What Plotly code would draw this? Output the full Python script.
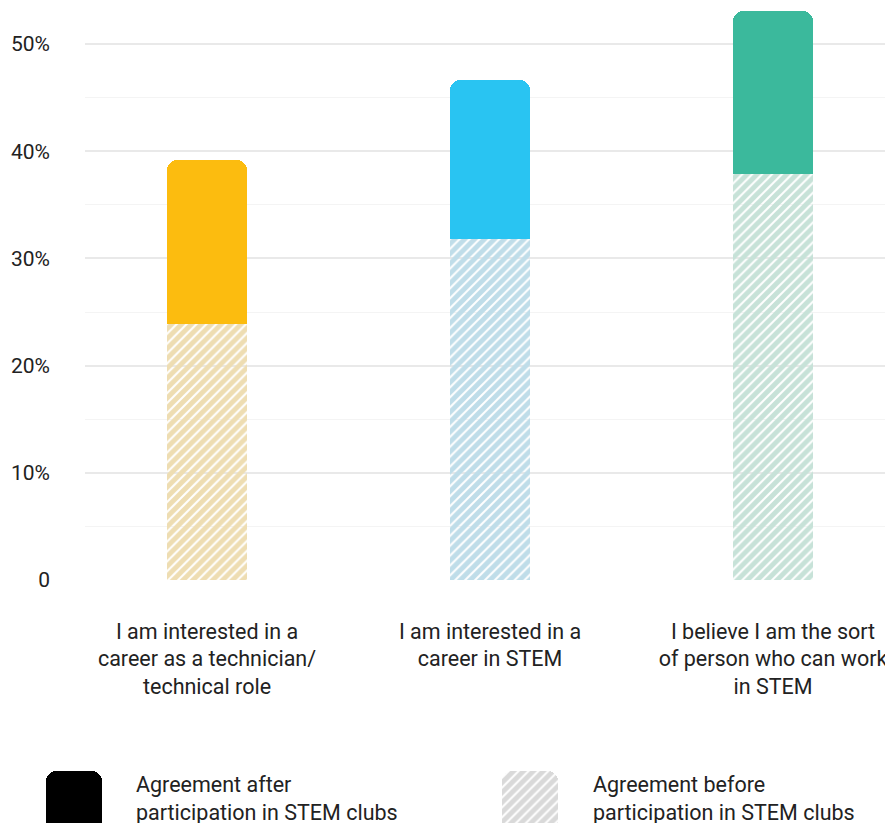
import plotly.graph_objects as go

categories = [
    "I am interested in a<br>career as a technician/<br>technical role",
    "I am interested in a<br>career in STEM",
    "I believe I am the sort<br>of person who can work<br>in STEM",
]
before_pct = [23.9, 31.8, 37.9]
after_pct = [39.2, 46.6, 53.1]
y_tickvals = [0, 10, 20, 30, 40, 50]
y_ticktext = ["0", "10%", "20%", "30%", "40%", "50%"]
legend_labels = ["Agreement after<br>participation in STEM clubs",
                 "Agreement before<br>participation in STEM clubs"]

solid_colors = ["#FCBC0F", "#29C4F2", "#3BB99C"]
hatch_colors = ["#EEDDB2", "#BFDDE9", "#C7E2D8"]

W, H = 885, 823
TOP = 5
FONT = "Roboto"
FS = 21.5

x_idx = [0, 1, 2]
gain = [a - b for a, b in zip(after_pct, before_pct)]

fig = go.Figure()
fig.add_trace(go.Bar(
    x=x_idx, y=before_pct, width=0.283,
    marker=dict(color=hatch_colors, line=dict(width=0),
                pattern=dict(shape="/", fgcolor=hatch_colors, bgcolor="white",
                             size=7, solidity=0.72, fillmode="replace")),
    showlegend=False, hoverinfo="skip",
))
fig.add_trace(go.Bar(
    x=x_idx, y=gain, width=0.283,
    marker=dict(color=solid_colors, line=dict(width=0)),
    showlegend=False, hoverinfo="skip",
))

# legend swatches drawn on an auxiliary pixel-scaled axis
leg_h = 823 - 760
fig.add_trace(go.Bar(
    x=[74], y=[leg_h - 11 + 20], base=[-20], width=[56],
    marker=dict(color="black", line=dict(width=0), cornerradius=10),
    xaxis="x2", yaxis="y2", showlegend=False, hoverinfo="skip",
))
fig.add_trace(go.Bar(
    x=[530], y=[leg_h - 11 + 20], base=[-20], width=[56],
    marker=dict(color="#D9D9D9", line=dict(width=0), cornerradius=10,
                pattern=dict(shape="/", fgcolor="#D9D9D9", bgcolor="white",
                             size=7, solidity=0.72, fillmode="replace")),
    xaxis="x2", yaxis="y2", showlegend=False, hoverinfo="skip",
))

paper_h = H - TOP
px_per_pct = (580 - 44) / 50.0
y_dom0 = (H - 580) / paper_h
y_max = 50 + (44 - TOP) / px_per_pct
x_dom0 = 85 / W
px_per_cat = 283.0
x_min = -(207 - 85) / px_per_cat
x_max = x_min + (W - 85) / px_per_cat

annotations = []
for lbl, xp in zip(legend_labels, [134, 591]):
    annotations.append(dict(
        text=lbl, x=xp / W, y=(H - 798) / paper_h, xref="paper", yref="paper",
        xanchor="left", yanchor="middle", align="left", showarrow=False,
        font=dict(family=FONT, size=FS, color="#222222"),
    ))

fig.update_layout(
    width=W, height=H, autosize=False,
    margin=dict(l=0, r=0, t=TOP, b=0, pad=0, autoexpand=False),
    paper_bgcolor="white", plot_bgcolor="white",
    barmode="stack", barcornerradius=10, bargap=0,
    font=dict(family=FONT, size=FS, color="#222222"),
    xaxis=dict(domain=[x_dom0, 1], range=[x_min, x_max], tickvals=x_idx, ticktext=categories,
               showgrid=False, zeroline=False, showline=False, ticks="", automargin=False,
               ticklabeloverflow="allow",
               ticklabelstandoff=36, tickfont=dict(family=FONT, size=FS, color="#222222"),
               fixedrange=True),
    yaxis=dict(domain=[y_dom0, 1], range=[0, y_max], tickvals=y_tickvals, ticktext=y_ticktext,
               showgrid=True, gridcolor="#E9E9E9", gridwidth=2, zeroline=False, showline=False,
               ticks="", ticklabelstandoff=34, automargin=False,
               tickfont=dict(family=FONT, size=21, color="#222222"),
               minor=dict(dtick=5, showgrid=True, gridcolor="#F4F4F4", gridwidth=1),
               fixedrange=True),
    xaxis2=dict(domain=[0, 1], range=[0, W], anchor="y2", visible=False, fixedrange=True,
                automargin=False),
    yaxis2=dict(domain=[0, leg_h / paper_h], range=[0, leg_h], anchor="x2", visible=False,
                fixedrange=True, automargin=False),
    annotations=annotations,
)

fig.write_html("out.html", config={"displayModeBar": False},
               post_script="document.body.style.margin='0';document.body.style.padding='0';")
